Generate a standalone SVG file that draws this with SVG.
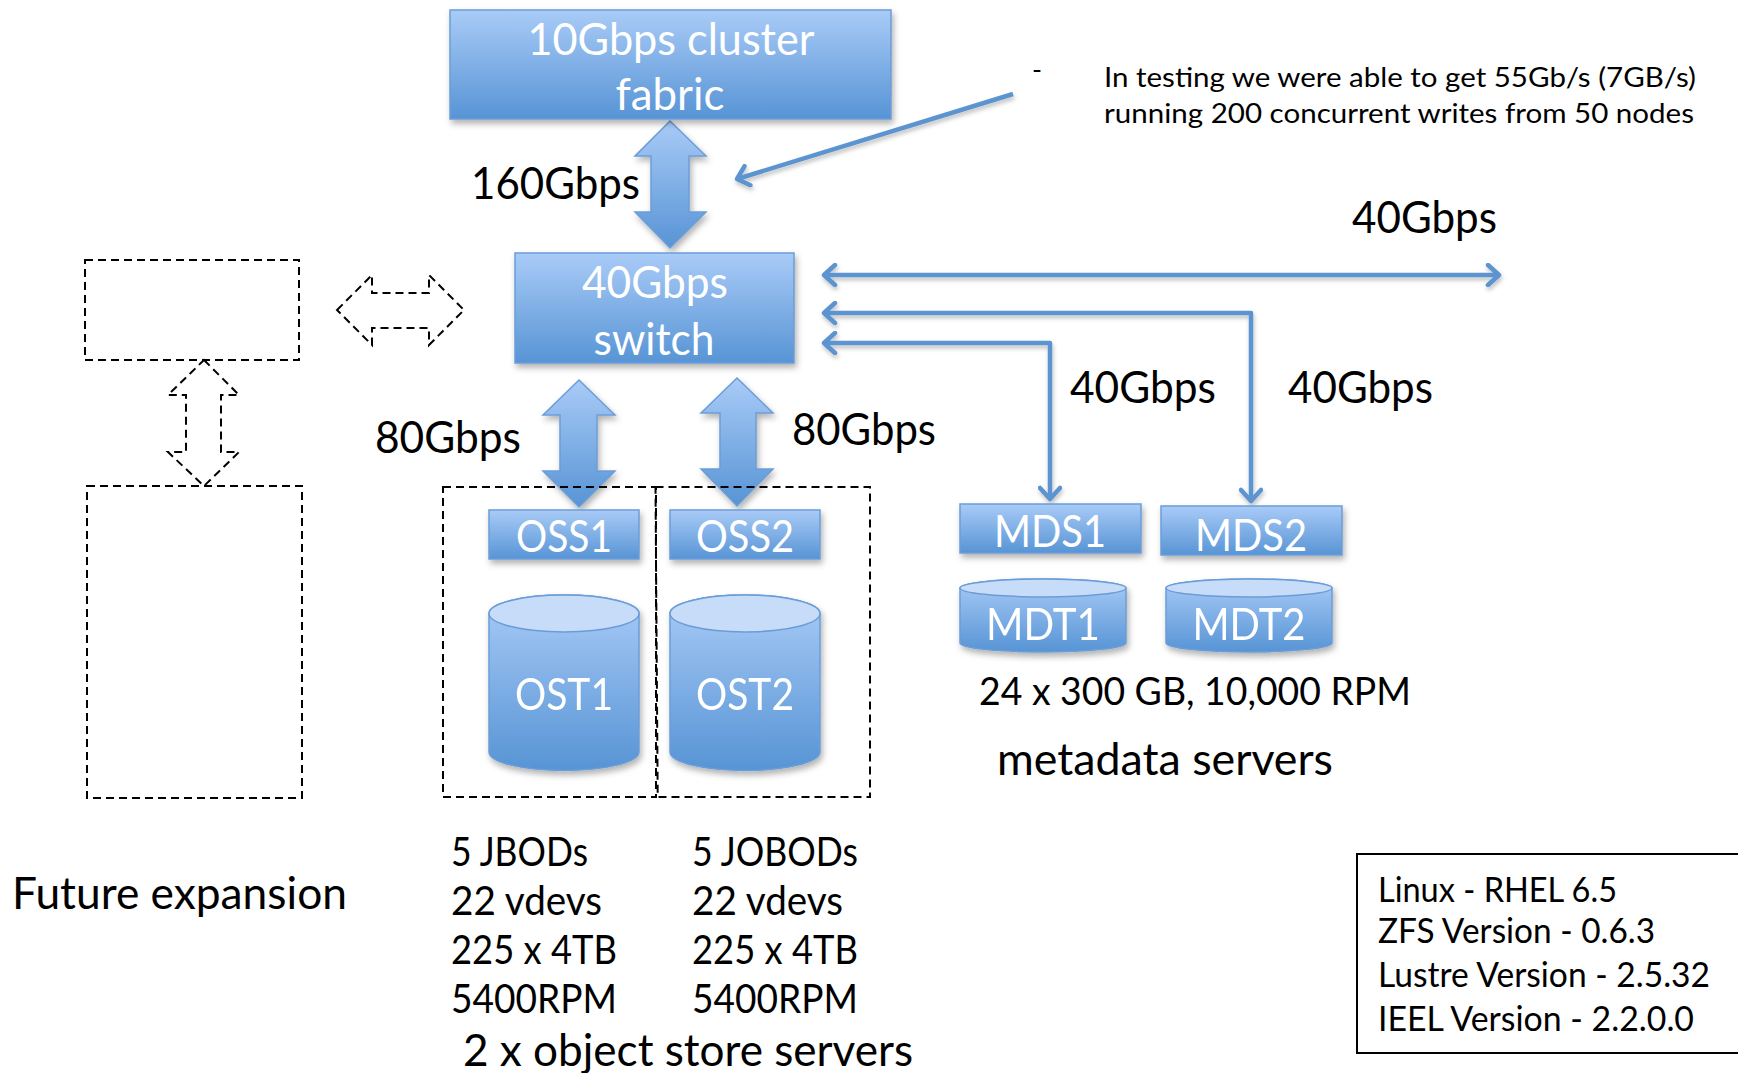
<svg xmlns="http://www.w3.org/2000/svg" width="1738" height="1073" viewBox="0 0 1738 1073">
<style>
text{font-family:Lato,"Open Sans","DejaVu Sans",sans-serif;}
.w{fill:#fff;font-size:44px;text-anchor:middle;}
.k{fill:#000;font-size:44px;}
.m{fill:#000;font-size:39px;}
.c{fill:#000;font-size:40px;}
.v{fill:#000;font-size:34px;}
.n{fill:#000;font-size:27px;}
.box{fill:url(#gb);stroke:#6b9dd8;stroke-width:1.5;filter:url(#sh);}
.blk{fill:url(#gb);stroke:#6b9dd8;stroke-width:1.5;filter:url(#sh);}
.cyl{fill:url(#gb);stroke:#6b9dd8;stroke-width:1.5;}
.top{fill:#c6dcf8;stroke:#6b9dd8;stroke-width:1.5;}
.dash{fill:none;stroke:#000;stroke-width:2;stroke-dasharray:8 5;}
.con{fill:none;stroke:#5b94d0;stroke-width:4.5;stroke-linejoin:round;}
</style>
<defs>
<linearGradient id="gb" x1="0" y1="0" x2="0" y2="1">
<stop offset="0" stop-color="#a9cbf7"/>
<stop offset="1" stop-color="#5794d5"/>
</linearGradient>
<filter id="sh" x="-10%" y="-10%" width="130%" height="150%">
<feDropShadow dx="2" dy="4" stdDeviation="3" flood-color="#000" flood-opacity="0.3"/>
</filter>
<filter id="lsh" x="-5%" y="-20%" width="110%" height="140%">
<feDropShadow dx="1" dy="3" stdDeviation="2" flood-color="#000" flood-opacity="0.25"/>
</filter>
<marker id="ah" viewBox="0 0 24 24" refX="20" refY="12" markerWidth="24" markerHeight="24" markerUnits="userSpaceOnUse" orient="auto-start-reverse">
<path d="M9,2 L20,12 L9,22" fill="none" stroke="#5b94d0" stroke-width="4.5" stroke-linecap="round" stroke-linejoin="round"/>
</marker>
</defs>

<g id="connectors" filter="url(#lsh)">
<path class="con" d="M1013,94 L737,179" marker-end="url(#ah)"/>
<path class="con" d="M824,275 H1499" marker-start="url(#ah)" marker-end="url(#ah)"/>
<path class="con" d="M824,313 H1251 V501" marker-start="url(#ah)" marker-end="url(#ah)"/>
<path class="con" d="M824,343 H1050 V499" marker-start="url(#ah)" marker-end="url(#ah)"/>
</g>

<g id="links">
<polygon class="blk" points="670,121 706,156 689,156 689,212 706,212 670,248 635,212 651,212 651,156 635,156"/>
<polygon class="blk" points="579,380 615,415 597,415 597,471 615,471 579,507 543,471 560,471 560,415 543,415"/>
<polygon class="blk" points="737,378 773,413 756,413 756,469 773,469 737,506 701,469 720,469 720,413 701,413"/>
<polygon class="dash" points="337,310 372,275 372,293 429,293 429,275 464,310 429,345 429,328 372,328 372,345"/>
<polygon class="dash" points="204,360 239,395 221,395 221,452 239,452 204,486 168,452 186,452 186,395 168,395"/>
</g>

<g id="fabric">
<rect class="box" x="450" y="10" width="441" height="109"/>
<text class="w" x="671" y="55" textLength="287" lengthAdjust="spacingAndGlyphs">10Gbps cluster</text>
<text class="w" x="670" y="110" textLength="109" lengthAdjust="spacingAndGlyphs">fabric</text>
</g>

<g id="switch">
<rect class="box" x="515" y="253" width="279" height="110"/>
<text class="w" x="655" y="298" textLength="146" lengthAdjust="spacingAndGlyphs">40Gbps</text>
<text class="w" x="654" y="355" textLength="121" lengthAdjust="spacingAndGlyphs">switch</text>
</g>

<g id="future-top"><rect class="dash" x="85" y="260" width="214" height="100"/></g>
<g id="future-bottom"><rect class="dash" x="87" y="486" width="215" height="312"/></g>

<g id="oss-group1"><rect class="dash" x="443" y="487" width="213" height="310"/></g>
<g id="oss-group2"><path class="dash" d="M655.5,487 H870 V797 H657.7 Z"/></g>

<g id="oss1">
<rect class="box" x="489" y="510" width="150" height="49"/>
<text class="w" x="564" y="552" textLength="96" lengthAdjust="spacingAndGlyphs">OSS1</text>
</g>
<g id="oss2">
<rect class="box" x="670" y="510" width="150" height="49"/>
<text class="w" x="745" y="552" textLength="98" lengthAdjust="spacingAndGlyphs">OSS2</text>
</g>

<g id="ost1" filter="url(#sh)">
<path class="cyl" d="M489,613.5 A75,18.5 0 0 1 639,613.5 V752 A75,18.5 0 0 1 489,752 Z"/>
<ellipse class="top" cx="564" cy="613.5" rx="75" ry="18.5"/>
<text class="w" x="564" y="710" textLength="98" lengthAdjust="spacingAndGlyphs">OST1</text>
</g>
<g id="ost2" filter="url(#sh)">
<path class="cyl" d="M670,613.5 A75,18.5 0 0 1 820,613.5 V752 A75,18.5 0 0 1 670,752 Z"/>
<ellipse class="top" cx="745" cy="613.5" rx="75" ry="18.5"/>
<text class="w" x="745" y="710" textLength="98" lengthAdjust="spacingAndGlyphs">OST2</text>
</g>

<g id="mds1">
<rect class="box" x="960" y="504" width="181" height="49"/>
<text class="w" x="1050" y="547" textLength="112" lengthAdjust="spacingAndGlyphs">MDS1</text>
</g>
<g id="mds2">
<rect class="box" x="1161" y="506" width="181" height="49"/>
<text class="w" x="1251" y="551" textLength="112" lengthAdjust="spacingAndGlyphs">MDS2</text>
</g>

<g id="mdt1" filter="url(#sh)">
<path class="cyl" d="M960,588 A83,9 0 0 1 1126,588 V643 A83,9 0 0 1 960,643 Z"/>
<ellipse class="top" cx="1043" cy="588" rx="83" ry="9"/>
<text class="w" x="1043" y="640" textLength="114" lengthAdjust="spacingAndGlyphs">MDT1</text>
</g>
<g id="mdt2" filter="url(#sh)">
<path class="cyl" d="M1166,588 A83,9 0 0 1 1332,588 V643 A83,9 0 0 1 1166,643 Z"/>
<ellipse class="top" cx="1249" cy="588" rx="83" ry="9"/>
<text class="w" x="1249" y="640" textLength="113" lengthAdjust="spacingAndGlyphs">MDT2</text>
</g>

<g id="labels">
<text class="k" x="471" y="199" textLength="169" lengthAdjust="spacingAndGlyphs">160Gbps</text>
<text class="k" x="1352" y="233" textLength="145" lengthAdjust="spacingAndGlyphs">40Gbps</text>
<text class="k" x="375" y="453" textLength="146" lengthAdjust="spacingAndGlyphs">80Gbps</text>
<text class="k" x="792" y="445" textLength="144" lengthAdjust="spacingAndGlyphs">80Gbps</text>
<text class="k" x="1070" y="403" textLength="146" lengthAdjust="spacingAndGlyphs">40Gbps</text>
<text class="k" x="1288" y="403" textLength="145" lengthAdjust="spacingAndGlyphs">40Gbps</text>
<text class="m" x="979" y="705" textLength="432" lengthAdjust="spacingAndGlyphs">24 x 300 GB, 10,000 RPM</text>
<text class="k" x="997" y="775" textLength="336" lengthAdjust="spacingAndGlyphs">metadata servers</text>
<text class="k" x="12" y="909" textLength="335" lengthAdjust="spacingAndGlyphs">Future expansion</text>
<text class="c" x="451" y="866" textLength="137" lengthAdjust="spacingAndGlyphs">5 JBODs</text>
<text class="c" x="451" y="915" textLength="151" lengthAdjust="spacingAndGlyphs">22 vdevs</text>
<text class="c" x="451" y="964" textLength="166" lengthAdjust="spacingAndGlyphs">225 x 4TB</text>
<text class="c" x="451" y="1013" textLength="166" lengthAdjust="spacingAndGlyphs">5400RPM</text>
<text class="c" x="692" y="866" textLength="166" lengthAdjust="spacingAndGlyphs">5 JOBODs</text>
<text class="c" x="692" y="915" textLength="151" lengthAdjust="spacingAndGlyphs">22 vdevs</text>
<text class="c" x="692" y="964" textLength="166" lengthAdjust="spacingAndGlyphs">225 x 4TB</text>
<text class="c" x="692" y="1013" textLength="166" lengthAdjust="spacingAndGlyphs">5400RPM</text>
<text class="k" x="463" y="1066" textLength="450" lengthAdjust="spacingAndGlyphs">2 x object store servers</text>
</g>

<g id="note">
<text class="n" x="1032" y="79">-</text>
<text class="n" x="1104" y="87" textLength="592" lengthAdjust="spacingAndGlyphs">In testing we were able to get 55Gb/s (7GB/s)</text>
<text class="n" x="1104" y="123" textLength="590" lengthAdjust="spacingAndGlyphs">running 200 concurrent writes from 50 nodes</text>
</g>

<g id="versions">
<rect x="1357" y="854" width="390" height="199" fill="none" stroke="#000" stroke-width="2"/>
<text class="v" x="1378" y="902" textLength="239" lengthAdjust="spacingAndGlyphs">Linux - RHEL 6.5</text>
<text class="v" x="1378" y="943" textLength="277" lengthAdjust="spacingAndGlyphs">ZFS Version - 0.6.3</text>
<text class="v" x="1378" y="987" textLength="332" lengthAdjust="spacingAndGlyphs">Lustre Version - 2.5.32</text>
<text class="v" x="1378" y="1031" textLength="316" lengthAdjust="spacingAndGlyphs">IEEL Version - 2.2.0.0</text>
</g>
</svg>
